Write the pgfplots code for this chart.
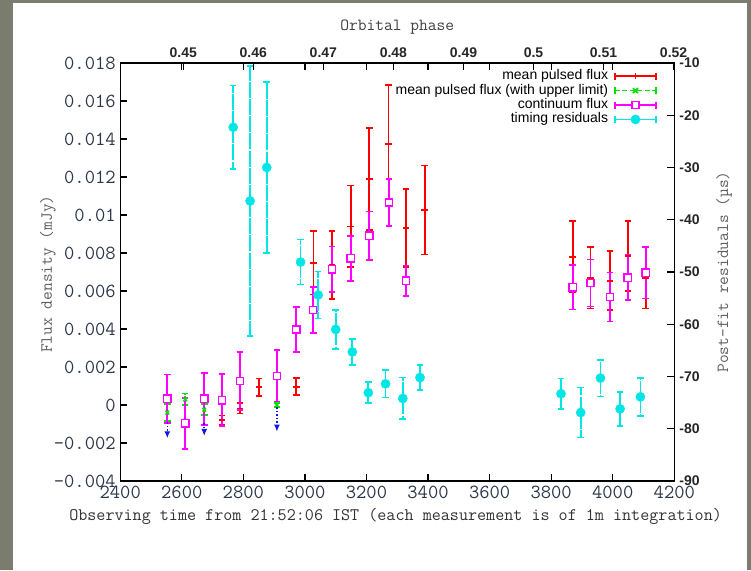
\documentclass[border=0pt]{standalone}
\usepackage{pgfplots}
\pgfplotsset{compat=1.18}
\usepackage{pgfplotstable}
\usepackage{fontspec}
\newfontfamily\keyfont{Liberation Sans}
\usetikzlibrary{arrows.meta}

\definecolor{slidebg}{RGB}{122,125,110}
\definecolor{pulsedred}{RGB}{255,0,0}
\definecolor{ulimgreen}{RGB}{0,225,0}
\definecolor{contmag}{RGB}{255,0,255}
\definecolor{residcyan}{RGB}{0,230,230}
\definecolor{arrowblue}{RGB}{20,20,240}
\definecolor{tickink}{RGB}{45,55,75}
\definecolor{labink}{RGB}{95,95,95}

% mean pulsed flux (mJy) with 1-sigma errors
\pgfplotstableread{
t     flux      err
2731  -0.00080  0.00025
2789  -0.00018  0.00027
2851   0.00093  0.00047
2972   0.00096  0.00045
3028   0.00748  0.00167
3088   0.00737  0.00178
3149   0.00940  0.00215
3209   0.01190  0.00268
3272   0.01374  0.00310
3328   0.00930  0.00205
3389   0.01026  0.00234
3870   0.00780  0.00187
3928   0.00670  0.00162
3991   0.00654  0.00155
4049   0.00784  0.00183
4107   0.00670  0.00162
}\pulsedtab

% mean pulsed flux where only an upper limit applies
\pgfplotstableread{
t     flux      err
2553  -0.00040  0.00044
2611   0.00030  0.00030
2673  -0.00025  0.00029
2909   0.00000  0.00010
}\ulimtab

% upper-limit arrows: start value and downward extent
\pgfplotstableread{
t     y0        dv
2553  -0.00090  -0.00085
2611  -0.00080  -0.00030
2673  -0.00095  -0.00068
2909  -0.00012  -0.00128
}\arrowtab

% continuum flux (mJy)
\pgfplotstableread{
t     flux      err
2553   0.00033  0.00128
2611  -0.00096  0.00134
2673   0.00033  0.00137
2731   0.00025  0.00137
2789   0.00126  0.00154
2909   0.00153  0.00135
2972   0.00398  0.00119
3027   0.00500  0.00120
3088   0.00714  0.00120
3149   0.00772  0.00118
3209   0.00891  0.00127
3273   0.01065  0.00123
3328   0.00654  0.00080
3870   0.00620  0.00117
3928   0.00642  0.00124
3991   0.00568  0.00129
4049   0.00670  0.00118
4107   0.00696  0.00136
}\conttab

% post-fit timing residuals (microseconds)
\pgfplotstableread{
t     res     err
2767  -22.3   8.0
2822  -36.4  25.8
2876  -30.0  16.4
2986  -48.1   4.3
3043  -54.4   4.5
3100  -61.0   3.7
3154  -65.3   2.5
3206  -73.1   2.0
3262  -71.4   2.6
3318  -74.2   4.0
3374  -70.2   2.4
3832  -73.3   2.9
3896  -76.9   4.8
3960  -70.3   3.5
4024  -76.2   3.3
4090  -73.9   3.6
}\residtab

\pgfplotsset{
  frame/.style={
    at={(120.2pt,89pt)}, anchor=south west,
    scale only axis, width=554.1pt, height=418pt,
    axis line style={line width=1.3pt, black},
    tick align=inside, major tick length=7pt,
    tick style={line width=1.2pt, black},
    scaled ticks=false,
  },
}

\begin{document}
\begin{tikzpicture}
\useasboundingbox (0pt,0pt) rectangle (751pt,570pt);
\fill[slidebg] (0pt,0pt) rectangle (751pt,570pt);
\fill[white] (13pt,0pt) rectangle (747pt,567pt);

% flux density against observing time
\begin{axis}[frame,
  xmin=2400, xmax=4200, ymin=-0.004, ymax=0.018,
  xtick={2400,2600,2800,3000,3200,3400,3600,3800,4000,4200},
  xticklabels={2400,2600,2800,3000,3200,3400,3600,3800,4000,4200},
  xtick pos=both, xticklabel pos=bottom,
  ytick={-0.004,-0.002,0,0.002,0.004,0.006,0.008,0.01,0.012,0.014,0.016,0.018},
  yticklabels={-0.004,-0.002,0,0.002,0.004,0.006,0.008,0.01,0.012,0.014,0.016,0.018},
  ytick pos=left,
  ticklabel style={font=\ttfamily\fontsize{20}{22}\selectfont, text=tickink},
  xticklabel style={yshift=-1.5pt},
  yticklabel style={xshift=-1pt},
  xlabel={Observing time from 21:52:06 IST (each measurement is of 1m integration)},
  ylabel={Flux density (mJy)},
  xlabel style={at={(axis description cs:0.497,-0.0854)}, anchor=center,
    font=\ttfamily\fontsize{17.6}{20}\selectfont, text=black!80},
  ylabel style={at={(axis description cs:-0.1303,0.495)}, anchor=center,
    font=\ttfamily\fontsize{17}{20}\selectfont, text=labink},
]
\addplot[color=pulsedred, only marks, mark=-, mark size=3.3pt,
  mark options={line width=1.7pt, draw=pulsedred},
  error bars/.cd, y dir=both, y explicit,
  error bar style={line width=1.7pt, draw=pulsedred},
  error mark options={rotate=90, mark size=3.3pt, line width=1.7pt, draw=pulsedred}]
  table[x=t, y=flux, y error=err] {\pulsedtab};
\addplot[color=ulimgreen, only marks, mark=x, mark size=2.6pt,
  mark options={line width=1.5pt, draw=ulimgreen, solid},
  error bars/.cd, y dir=both, y explicit,
  error bar style={line width=1.6pt, draw=ulimgreen, dash pattern=on 3pt off 2pt},
  error mark options={rotate=90, mark size=3.3pt, line width=1.6pt, draw=ulimgreen, solid}]
  table[x=t, y=flux, y error=err] {\ulimtab};
\addplot[color=contmag, only marks, mark=square*, mark size=3.6pt,
  mark options={line width=1.5pt, fill=white, draw=contmag},
  error bars/.cd, y dir=both, y explicit,
  error bar style={line width=1.7pt, draw=contmag},
  error mark options={rotate=90, mark size=3.3pt, line width=1.7pt, draw=contmag}]
  table[x=t, y=flux, y error=err] {\conttab};
\addplot[arrowblue, line width=1.5pt, dash pattern=on 1.5pt off 2pt,
  -{Latex[length=7pt, width=6pt]},
  quiver={u=0, v=\thisrow{dv}}] table[x=t, y=y0] {\arrowtab};
\end{axis}

% timing residuals on the right-hand scale
\begin{axis}[frame,
  xmin=2400, xmax=4200, ymin=-90, ymax=-10,
  hide x axis, axis y line*=right,
  ytick={-90,-80,-70,-60,-50,-40,-30,-20,-10},
  yticklabels={-90,-80,-70,-60,-50,-40,-30,-20,-10},
  yticklabel style={font=\keyfont\bfseries\fontsize{14}{16}\selectfont, text=black!85, xshift=1.5pt},
  ylabel={Post-fit residuals (µs)},
  ylabel style={at={(axis description cs:1.0897,0.5)}, anchor=center,
    font=\ttfamily\fontsize{17}{20}\selectfont, text=labink},
  legend plot pos=right,
  legend cell align=right,
  legend style={at={(axis description cs:0.9688,0.986)}, anchor=north east,
    draw=none, fill=none, inner sep=0pt, row sep=0pt,
    font=\keyfont\fontsize{14}{15}\selectfont,
    nodes={inner sep=1pt, text height=9.6pt, text depth=2.8pt},
    /tikz/every odd column/.append style={column sep=5pt}},
]
\addlegendimage{legend image code/.code={
  \draw[pulsedred, line width=1.7pt] (0pt,0pt) -- (41pt,0pt);
  \draw[pulsedred, line width=1.7pt] (0pt,-3.5pt) -- (0pt,3.5pt) (41pt,-3.5pt) -- (41pt,3.5pt)
    (20.5pt,-3pt) -- (20.5pt,3pt);}}
\addlegendentry{mean pulsed flux}
\addlegendimage{legend image code/.code={
  \draw[ulimgreen, line width=1.6pt, dash pattern=on 5pt off 2.5pt] (0pt,0pt) -- (41pt,0pt);
  \draw[ulimgreen, line width=1.6pt] (0pt,-3.5pt) -- (0pt,3.5pt) (41pt,-3.5pt) -- (41pt,3.5pt)
    (18pt,-2.5pt) -- (23pt,2.5pt) (18pt,2.5pt) -- (23pt,-2.5pt);}}
\addlegendentry{mean pulsed flux (with upper limit)}
\addlegendimage{legend image code/.code={
  \draw[contmag, line width=1.7pt] (0pt,0pt) -- (41pt,0pt);
  \draw[contmag, line width=1.7pt] (0pt,-3.5pt) -- (0pt,3.5pt) (41pt,-3.5pt) -- (41pt,3.5pt);
  \draw[contmag, line width=1.5pt, fill=white] (17pt,-3.5pt) rectangle (24pt,3.5pt);}}
\addlegendentry{continuum flux}
\addlegendimage{legend image code/.code={
  \draw[residcyan, line width=1.7pt] (0pt,0pt) -- (41pt,0pt);
  \draw[residcyan, line width=1.7pt] (0pt,-3.5pt) -- (0pt,3.5pt) (41pt,-3.5pt) -- (41pt,3.5pt);
  \fill[residcyan] (20.5pt,0pt) circle (4.6pt);}}
\addlegendentry{timing residuals}
\addplot[color=residcyan, only marks, mark=*, mark size=4.6pt,
  mark options={fill=residcyan, draw=residcyan}, forget plot,
  error bars/.cd, y dir=both, y explicit,
  error bar style={line width=1.7pt, draw=residcyan, dash pattern=on 16pt off 1.2pt},
  error mark options={rotate=90, mark size=3.3pt, line width=1.7pt, draw=residcyan, solid}]
  table[x=t, y=res, y error=err] {\residtab};
\end{axis}

% orbital phase along the top
\begin{axis}[frame,
  xmin=0.4410, xmax=0.5201, ymin=0, ymax=1,
  hide y axis, axis x line*=top,
  xtick={0.45,0.46,0.47,0.48,0.49,0.5,0.51,0.52},
  xticklabels={0.45,0.46,0.47,0.48,0.49,0.5,0.51,0.52},
  xticklabel style={font=\keyfont\bfseries\fontsize{14}{16}\selectfont, text=black!85, yshift=2pt},
  xlabel={Orbital phase},
  xlabel style={at={(axis description cs:0.5,1.086)}, anchor=center,
    font=\ttfamily\fontsize{17}{20}\selectfont, text=black!75},
]
\end{axis}
\end{tikzpicture}
\end{document}
